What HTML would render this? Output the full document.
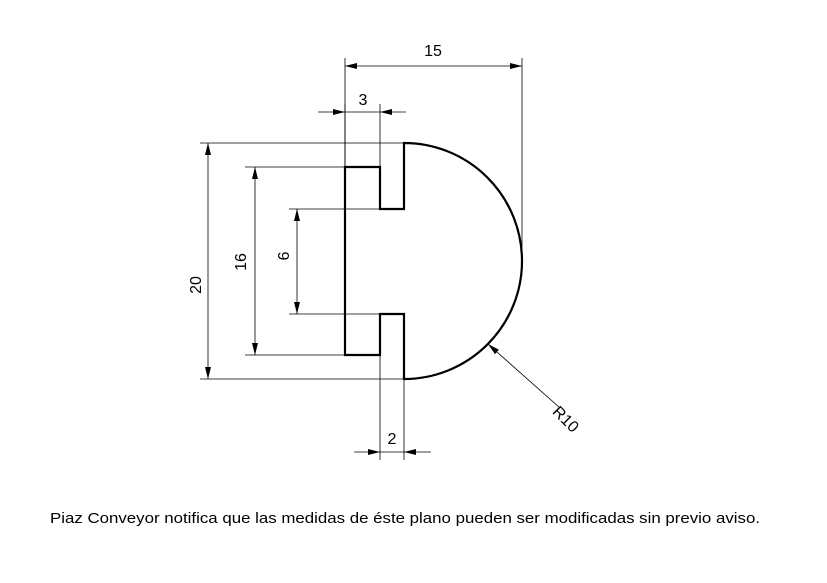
<!DOCTYPE html>
<html><head><meta charset="utf-8"><style>
html,body{margin:0;padding:0;background:#fff;width:827px;height:583px;overflow:hidden}
svg{display:block}
text{font-family:"Liberation Sans",sans-serif;fill:#000}
</style></head><body>
<svg width="827" height="583" viewBox="0 0 827 583">
<defs>
<marker id="a" viewBox="0 0 12 6" refX="12" refY="3" markerWidth="12" markerHeight="6" orient="auto-start-reverse" markerUnits="userSpaceOnUse"><path d="M0,0 L12,3 L0,6 Z" fill="#000"/></marker>
</defs>
<path d="M345,167 L380,167 L380,209 L404,209 L404,143 A118,118 0 0 1 404,379 L404,314 L380,314 L380,355 L345,355 Z" fill="none" stroke="#000" stroke-width="2.2"/>
<g stroke="#000" stroke-width="0.8" fill="none">
<line x1="345" y1="58" x2="345" y2="167"/><line x1="522" y1="58" x2="522" y2="261"/>
<line x1="345" y1="66" x2="522" y2="66" marker-start="url(#a)" marker-end="url(#a)"/>
<line x1="345" y1="104" x2="345" y2="167"/><line x1="380" y1="104" x2="380" y2="167"/>
<line x1="318" y1="112" x2="345" y2="112" marker-end="url(#a)"/>
<line x1="406" y1="112" x2="380" y2="112" marker-end="url(#a)"/>
<line x1="345" y1="112" x2="380" y2="112"/>
<line x1="200" y1="143" x2="404" y2="143"/><line x1="200" y1="379" x2="404" y2="379"/>
<line x1="208" y1="143" x2="208" y2="379" marker-start="url(#a)" marker-end="url(#a)"/>
<line x1="245" y1="167" x2="345" y2="167"/><line x1="245" y1="355" x2="345" y2="355"/>
<line x1="255" y1="167" x2="255" y2="355" marker-start="url(#a)" marker-end="url(#a)"/>
<line x1="289" y1="209" x2="380" y2="209"/><line x1="289" y1="314" x2="380" y2="314"/>
<line x1="297" y1="209" x2="297" y2="314" marker-start="url(#a)" marker-end="url(#a)"/>
<line x1="380" y1="355" x2="380" y2="460"/><line x1="404" y1="379" x2="404" y2="460"/>
<line x1="354" y1="452" x2="380" y2="452" marker-end="url(#a)"/>
<line x1="431" y1="452" x2="404" y2="452" marker-end="url(#a)"/>
<line x1="380" y1="452" x2="404" y2="452"/>
<line x1="560" y1="408" x2="488" y2="344" marker-end="url(#a)"/>
</g>
<text x="433" y="56" font-size="16" text-anchor="middle">15</text>
<text x="363" y="105" font-size="16" text-anchor="middle">3</text>
<text x="392" y="444" font-size="16" text-anchor="middle">2</text>
<text transform="translate(201,285) rotate(-90)" font-size="16" text-anchor="middle">20</text>
<text transform="translate(246,262) rotate(-90)" font-size="16" text-anchor="middle">16</text>
<text transform="translate(278,256) rotate(90)" font-size="16" text-anchor="middle">9</text>
<text transform="translate(562,423) rotate(45)" font-size="16" text-anchor="middle">R10</text>
<text x="50" y="523" font-size="15" textLength="710" lengthAdjust="spacingAndGlyphs">Piaz Conveyor notifica que las medidas de éste plano pueden ser modificadas sin previo aviso.</text>
</svg>
</body></html>
